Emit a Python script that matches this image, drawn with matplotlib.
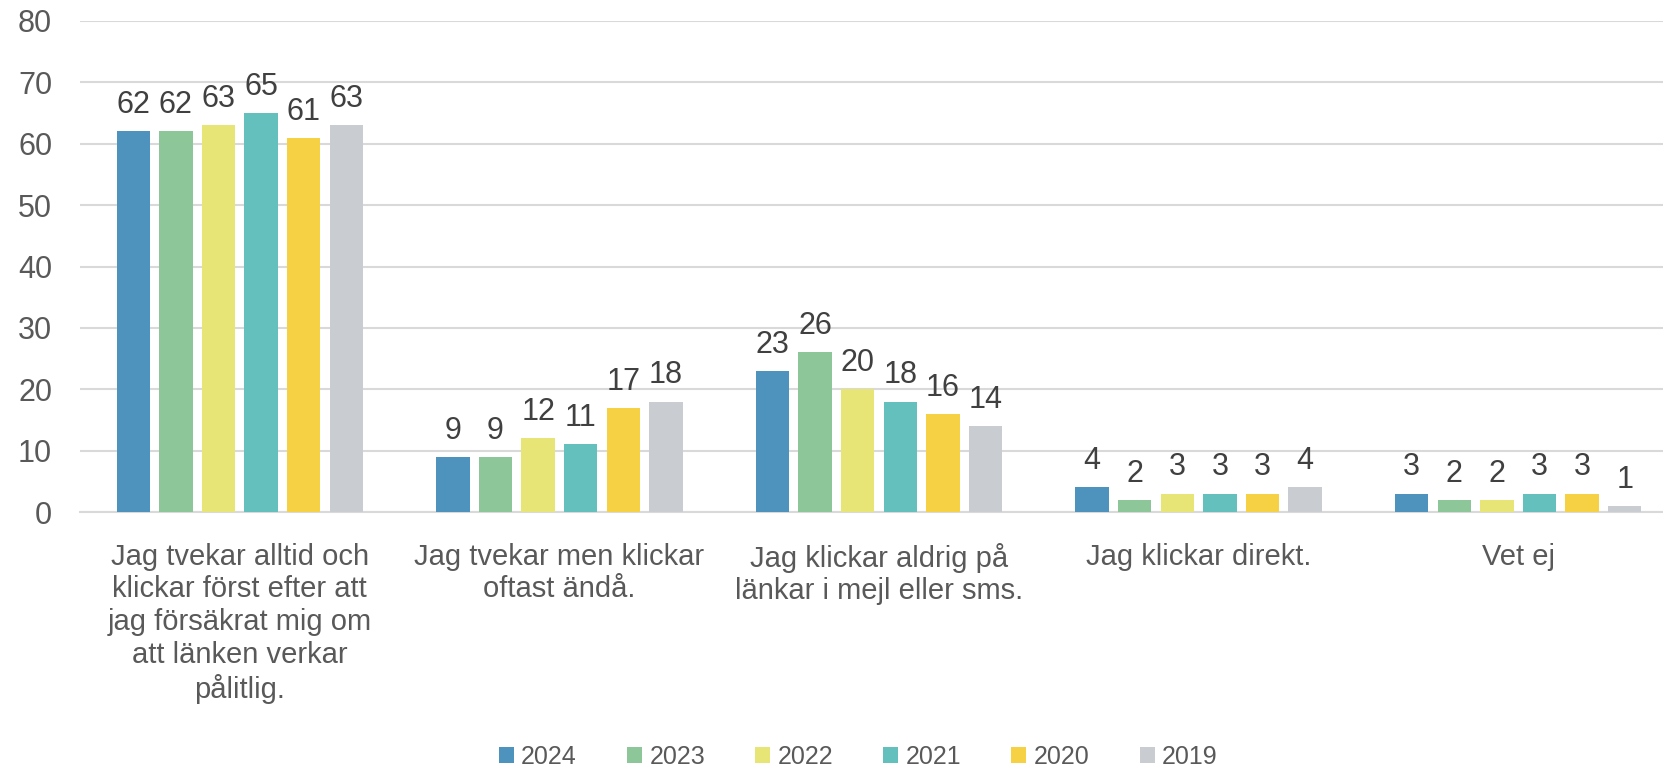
import numpy as np
import matplotlib.pyplot as plt

# Données
categories = [
    "Jag tvekar alltid och\nklickar först efter att\njag försäkrat mig om\natt länken verkar\npålitlig.",
    "Jag tvekar men klickar\noftast ändå.",
    "Jag klickar aldrig på\nlänkar i mejl eller sms.",
    "Jag klickar direkt.",
    "Vet ej",
]
years = ["2024", "2023", "2022", "2021", "2020", "2019"]
v2024 = [62, 9, 23, 4, 3]
v2023 = [62, 9, 26, 2, 2]
v2022 = [63, 12, 20, 3, 2]
v2021 = [65, 11, 18, 3, 3]
v2020 = [61, 17, 16, 3, 3]
v2019 = [63, 18, 14, 4, 1]
series = [v2024, v2023, v2022, v2021, v2020, v2019]
colors = ["#4E93BD", "#8DC799", "#E8E577", "#64C0BD", "#F5D143", "#C9CDD1"]

police = "Liberation Sans"
gris = "#595959"

fig = plt.figure(figsize=(16.63, 7.68), dpi=100)
ax = fig.add_axes([80 / 1663, 1 - 512 / 768, 1 - 80 / 1663, (512 - 21) / 768])

x = np.arange(len(categories))
slot = 0.1333
largeur = 0.104
for i, (annee, vals) in enumerate(zip(years, series)):
    pos = x + (i - 2.5) * slot
    barres = ax.bar(pos, vals, largeur, color=colors[i], label=annee, zorder=3)
    for b, v in zip(barres, vals):
        ax.annotate(
            str(v),
            (b.get_x() + b.get_width() / 2, v),
            xytext=(0, 8),
            textcoords="offset points",
            ha="center",
            va="bottom",
            fontsize=22,
            color="#404040",
            family=police,
        )

ax.set_ylim(0, 80)
ax.set_xlim(-0.5, 4.5 - 15 / 319.7)
ax.set_yticks(range(0, 81, 10))
ax.yaxis.grid(True, color="#D9D9D9", linewidth=1.5, zorder=0)
ax.set_xticks(x)
ax.set_xticklabels(categories, fontsize=21, color=gris, family=police, va="top", linespacing=1.22)
for lab in ax.get_yticklabels():
    lab.set_family(police)
ax.tick_params(axis="y", labelsize=22, labelcolor=gris, length=0, pad=20)
ax.tick_params(axis="x", length=0, pad=22)
for s in ["top", "right", "left"]:
    ax.spines[s].set_visible(False)
ax.spines["bottom"].set_color("#D9D9D9")
ax.spines["bottom"].set_linewidth(1.5)

leg = fig.legend(
    loc="center",
    bbox_to_anchor=(0.516, 1 - 757 / 768),
    ncol=6,
    frameon=False,
    prop={"family": police, "size": 18},
    handlelength=0.6,
    handleheight=0.6,
    handletextpad=0.3,
    columnspacing=2.0,
)
for t in leg.get_texts():
    t.set_color(gris)

fig.savefig("out.png", dpi=100)
